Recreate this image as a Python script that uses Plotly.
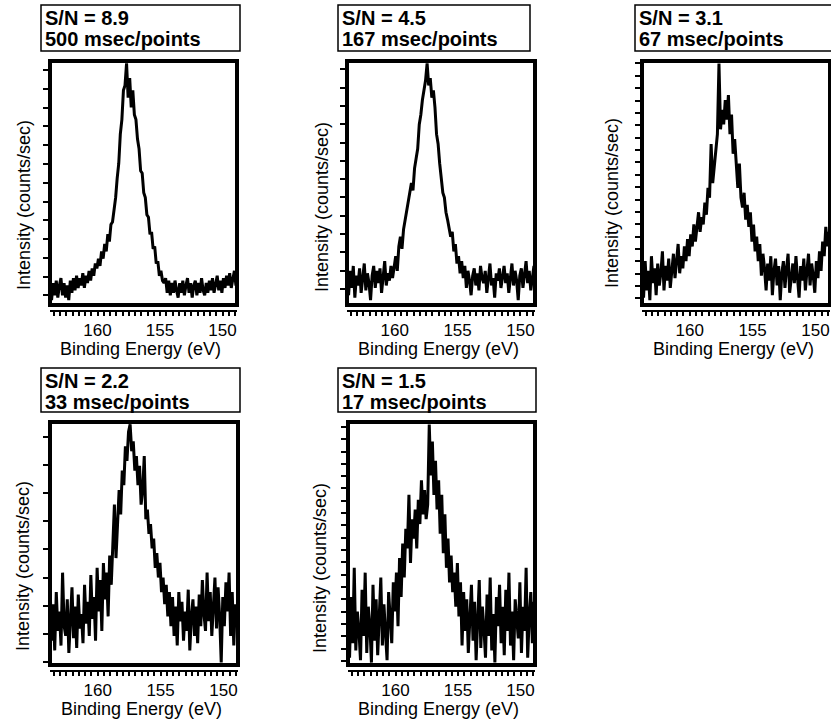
import plotly.graph_objects as go

W, H = 831, 722

# Binding energy grid (eV), 0.125 eV step
energy = [round(163.8 - 0.125 * i, 3) for i in range(121)]

# Intensities (normalised to frame: 0 = bottom, 100 = top)
sn89 = [6, 2, 9, 4, 10, 3, 8, 11, 4, 9,
        3, 8, 2, 10, 5, 11, 6, 12, 7, 11,
        8, 13, 7, 12, 9, 14, 10, 15, 12, 17,
        15, 19, 16, 22, 19, 25, 22, 29, 26, 33,
        34, 39, 44, 52, 58, 70, 76, 88, 90, 99,
        85, 93, 81, 88, 78, 76, 68, 64, 55, 54,
        46, 44, 37, 36, 29, 30, 23, 24, 17, 18,
        12, 14, 10, 9, 11, 5, 10, 4, 9, 5,
        10, 6, 3, 9, 5, 10, 4, 8, 11, 5,
        9, 3, 8, 10, 4, 9, 5, 11, 6, 4,
        9, 5, 10, 6, 11, 5, 9, 12, 6, 10,
        5, 11, 7, 12, 8, 13, 7, 11, 14, 8, 16]

sn45 = [10, 4, 14, 7, 16, 3, 12, 8, 15, 5,
        11, 17, 6, 13, 9, 2, 12, 16, 7, 14,
        9, 15, 5, 12, 18, 8, 13, 10, 16, 11,
        16, 20, 14, 24, 28, 23, 31, 35, 38, 42,
        46, 50, 47, 56, 60, 64, 74, 78, 84, 88,
        92, 99, 90, 93, 85, 88, 81, 70, 66, 58,
        52, 46, 44, 38, 35, 31, 28, 30, 22, 25,
        17, 20, 13, 18, 11, 16, 7, 14, 10, 4,
        12, 15, 8, 13, 6, 16, 11, 9, 14, 5,
        12, 17, 8, 11, 3, 13, 10, 15, 7, 12,
        16, 9, 13, 5, 11, 17, 8, 14, 10, 2,
        12, 15, 7, 13, 18, 9, 14, 6, 12, 16, 11]

sn31 = [12, 3, 18, 6, 14, 2, 20, 9, 15, 4,
        17, 8, 13, 22, 6, 16, 10, 19, 7, 14,
        21, 11, 17, 25, 13, 20, 15, 24, 18, 27,
        20, 29, 24, 33, 26, 31, 38, 30, 36, 33,
        42, 37, 48, 44, 66, 50, 56, 62, 70, 99,
        72, 80, 74, 84, 76, 86, 70, 78, 62, 68,
        55, 48, 58, 44, 40, 46, 35, 41, 32, 38,
        26, 33, 22, 28, 18, 25, 12, 21, 15, 6,
        17, 10, 20, 4, 14, 19, 8, 16, 2, 13,
        18, 7, 15, 21, 5, 12, 17, 9, 20, 11,
        3, 16, 10, 19, 6, 14, 21, 8, 17, 12,
        5, 18, 11, 22, 14, 26, 20, 32, 24, 30, 28]

sn22 = [34, 10, 25, 6, 30, 14, 22, 8, 38, 16,
        12, 27, 5, 20, 32, 11, 24, 7, 29, 15,
        21, 9, 33, 17, 26, 12, 37, 19, 28, 10,
        40, 22, 35, 14, 42, 27, 38, 20, 45, 33,
        52, 66, 44, 58, 72, 62, 80, 74, 90, 84,
        96, 99, 88, 92, 80, 86, 74, 82, 66, 72,
        86, 60, 64, 54, 58, 48, 52, 40, 46, 36,
        42, 30, 36, 25, 33, 20, 30, 16, 28, 12,
        24, 8, 30, 18, 26, 10, 22, 14, 31, 6,
        20, 27, 12, 24, 9, 29, 16, 35, 21, 14,
        38, 18, 30, 12, 26, 36, 15, 32, 20, 1,
        28, 16, 34, 22, 38, 12, 30, 8, 25, 19, 33]

sn15 = [18, 3, 28, 9, 40, 6, 22, 14, 2, 31,
        12, 38, 5, 24, 16, 1, 33, 10, 27, 4,
        20, 36, 8, 25, 13, 2, 30, 17, 9, 34,
        22, 38, 16, 44, 28, 50, 36, 56, 48, 70,
        42, 60, 52, 64, 48, 68, 58, 76, 62, 72,
        60, 66, 99, 78, 92, 70, 84, 64, 76, 54,
        70, 46, 62, 40, 52, 34, 45, 30, 38, 24,
        42, 20, 34, 8, 30, 14, 27, 5, 22, 33,
        10, 26, 2, 18, 35, 7, 24, 15, 3, 29,
        12, 36, 6, 21, 1, 28, 16, 33, 9, 24,
        4, 31, 14, 38, 8, 22, 2, 27, 17, 11,
        34, 5, 24, 14, 40, 3, 20, 30, 9, 26, 16]

sn_labels = ["S/N = 8.9", "S/N = 4.5", "S/N = 3.1", "S/N = 2.2", "S/N = 1.5"]
time_labels = ["500 msec/points", "167 msec/points", "67 msec/points",
               "33 msec/points", "17 msec/points"]
series = [sn89, sn45, sn31, sn22, sn15]
x_tick_vals = [160, 155, 150]
x_tick_text = ["160", "155", "150"]
x_title = "Binding Energy (eV)"
y_title = "Intensity (counts/sec)"

# layout (pixel geometry)
frames = [(50, 61, 237, 305), (347, 61, 535, 305), (642, 61, 830, 305),
          (50, 422, 238, 665), (348, 422, 535, 665)]
boxes = [(41, 5, 240, 51), (338, 5, 530, 51), (635, 5, 833, 51),
         (41, 368, 240, 412), (338, 368, 536, 412)]
ytitle_pos = [(24, 205), (322, 207), (612, 203), (23, 566), (320, 568)]
ytick_first = [96.3, 96.6, 99.0, 94.0, 98.0]
ytick_step = [7.7, 7.5, 5.07, 11.6, 5.07]
xrange_ = [163.8, 148.84]
GAP = 5
FONT = "Liberation Sans"

fig = go.Figure()
shapes = []
annotations = []

def px(x):
    return x / W

def py(y):
    return 1 - y / H

for k in range(5):
    L, T, R, B = frames[k]
    xa = "xaxis" if k == 0 else f"xaxis{k+1}"
    ya = "yaxis" if k == 0 else f"yaxis{k+1}"
    xr = "x" if k == 0 else f"x{k+1}"
    yr = "y" if k == 0 else f"y{k+1}"
    ymin = -GAP / (B - T) * 100
    fig.add_trace(go.Scatter(x=energy, y=series[k], mode="lines",
                             line=dict(color="black", width=3),
                             xaxis=xr, yaxis=yr, hoverinfo="skip",
                             showlegend=False))
    yt = []
    v = ytick_first[k]
    while v > 0:
        yt.append(round(v, 2))
        v -= ytick_step[k]
    fig.update_layout(**{
        xa: dict(domain=[px(L), px(R)], range=xrange_, anchor=yr,
                 showgrid=False, zeroline=False, showline=True,
                 linecolor="black", linewidth=2,
                 ticks="outside", ticklen=4, tickwidth=2, tickcolor="black",
                 tickvals=x_tick_vals, ticktext=x_tick_text,
                 minor=dict(dtick=0.5, ticks="outside", ticklen=4,
                            tickwidth=2, tickcolor="black", showgrid=False),
                 tickfont=dict(family=FONT, size=17, color="black"),
                 fixedrange=True),
        ya: dict(domain=[py(B + GAP), py(T)], range=[ymin, 100], anchor=xr,
                 showgrid=False, zeroline=False, showline=False,
                 ticks="outside", ticklen=6, tickwidth=2, tickcolor="black",
                 tickvals=yt, showticklabels=False, fixedrange=True),
    })
    # thick frame around the plotting box
    shapes.append(dict(type="rect", xref="paper", yref="paper",
                       x0=px(L), x1=px(R), y0=py(B), y1=py(T),
                       layer="above", line=dict(color="black", width=4)))
    bl, bt, br, bb = boxes[k]
    shapes.append(dict(type="rect", xref="paper", yref="paper",
                       x0=px(bl), x1=px(br), y0=py(bb), y1=py(bt),
                       line=dict(color="black", width=1.5)))
    annotations.append(dict(text=sn_labels[k], xref="paper", yref="paper",
                            x=px(bl + 2), y=py(bt + 13), xanchor="left",
                            yanchor="middle", showarrow=False,
                            font=dict(family=FONT, size=20, color="black",
                                      weight="bold")))
    annotations.append(dict(text=time_labels[k], xref="paper", yref="paper",
                            x=px(bl + 2), y=py(bt + 34), xanchor="left",
                            yanchor="middle", showarrow=False,
                            font=dict(family=FONT, size=20, color="black",
                                      weight="bold")))
    tx, ty = ytitle_pos[k]
    annotations.append(dict(text=y_title, xref="paper", yref="paper",
                            x=px(tx), y=py(ty), xanchor="center",
                            yanchor="middle", textangle=-90, showarrow=False,
                            font=dict(family=FONT, size=18, color="black")))
    annotations.append(dict(text=x_title, xref="paper", yref="paper",
                            x=px((L + R) / 2 - 3), y=py(B + 44),
                            xanchor="center", yanchor="middle",
                            showarrow=False,
                            font=dict(family=FONT, size=18, color="black")))

fig.update_layout(width=W, height=H, margin=dict(l=0, r=0, t=0, b=0),
                  paper_bgcolor="white", plot_bgcolor="white",
                  shapes=shapes, annotations=annotations, showlegend=False)

fig.write_html("out.html", config={"displayModeBar": False})
